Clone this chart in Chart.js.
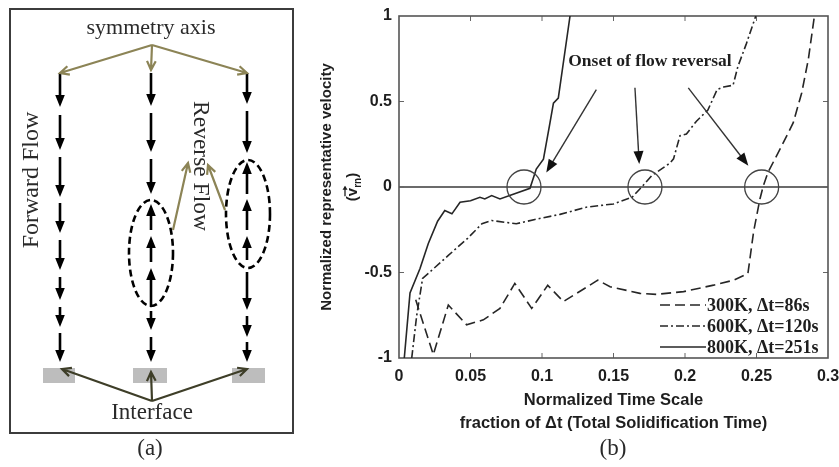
<!DOCTYPE html>
<html>
<head>
<meta charset="utf-8">
<script src="https://cdn.jsdelivr.net/npm/chart.js@4.4.1/dist/chart.umd.min.js"></script>
<style>
  html, body { margin: 0; padding: 0; background: #fff; }
  #wrap { width: 839px; height: 467px; }
</style>
</head>
<body>
<div id="wrap"><canvas id="fig" width="839" height="467"></canvas></div>
<script>
// series: normalized time (fraction of dt) vs normalized velocity
const seriesLabels = ['300K, \u0394t=86s', '600K, \u0394t=120s', '800K, \u0394t=251s'];

const t300 = [0.0117, 0.024, 0.0345, 0.0473, 0.059, 0.0706, 0.081, 0.0928, 0.104, 0.115, 0.139, 0.1476, 0.1685, 0.18, 0.199, 0.22, 0.234, 0.244, 0.248, 0.2524, 0.2548, 0.258, 0.2676, 0.2757, 0.2816, 0.2862, 0.2905];
const v300 = [-0.66, -0.98, -0.69, -0.806, -0.777, -0.71, -0.564, -0.71, -0.575, -0.67, -0.545, -0.583, -0.622, -0.628, -0.612, -0.574, -0.545, -0.506, -0.26, -0.07, 0.008, 0.085, 0.24, 0.376, 0.55, 0.744, 1];

const t600 = [0.0089, 0.0124, 0.0165, 0.0229, 0.0345, 0.048, 0.058, 0.0648, 0.082, 0.095, 0.1126, 0.131, 0.150, 0.163, 0.1697, 0.1767, 0.1895, 0.192, 0.1965, 0.201, 0.208, 0.216, 0.2225, 0.227, 0.2336, 0.237, 0.243, 0.2495];
const v600 = [-1, -0.75, -0.535, -0.487, -0.4, -0.30, -0.215, -0.196, -0.215, -0.19, -0.16, -0.118, -0.099, -0.06, 0, 0.066, 0.14, 0.165, 0.30, 0.31, 0.385, 0.45, 0.57, 0.585, 0.595, 0.705, 0.84, 1];

const t800 = [0.0037, 0.0077, 0.0147, 0.0205, 0.027, 0.032, 0.037, 0.0427, 0.05, 0.0566, 0.06, 0.0648, 0.0706, 0.0916, 0.096, 0.101, 0.1056, 0.108, 0.1114, 0.1196];
const v800 = [-1, -0.62, -0.477, -0.33, -0.2, -0.138, -0.157, -0.089, -0.08, -0.06, -0.07, -0.05, -0.07, -0.008, 0.105, 0.163, 0.376, 0.49, 0.52, 1];

const xTicks = [0, 0.05, 0.1, 0.15, 0.2, 0.25, 0.3];
const xTickLabels = ['0', '0.05', '0.1', '0.15', '0.2', '0.25', '0.3'];
const yTicks = [-1, -0.5, 0, 0.5, 1];
const yTickLabels = ['-1', '-0.5', '0', '0.5', '1'];

// onset of flow reversal (where each curve crosses zero)
const onsetT = [0.0874, 0.172, 0.2536];

const INK = '#1e1e1e';
const SANS = '"Liberation Sans", Arial, "DejaVu Sans", sans-serif';
const SERIF = '"Liberation Serif", "Times New Roman", serif';

const pts = (xs, ys) => xs.map((x, i) => ({ x: x, y: ys[i] }));

function head(c, x, y, ang, len, half) {
  c.beginPath();
  c.moveTo(x, y);
  c.lineTo(x - len * Math.cos(ang) + half * Math.sin(ang), y - len * Math.sin(ang) - half * Math.cos(ang));
  c.lineTo(x - len * Math.cos(ang) - half * Math.sin(ang), y - len * Math.sin(ang) + half * Math.cos(ang));
  c.closePath();
  c.fill();
}

function chevron(c, x0, y0, x1, y1, len) {
  const a = Math.atan2(y1 - y0, x1 - x0);
  c.beginPath();
  c.moveTo(x0, y0); c.lineTo(x1, y1);
  c.moveTo(x1 - len * Math.cos(a - 0.45), y1 - len * Math.sin(a - 0.45));
  c.lineTo(x1, y1);
  c.lineTo(x1 - len * Math.cos(a + 0.45), y1 - len * Math.sin(a + 0.45));
  c.stroke();
}

function vArrow(c, x, from, tip) {
  const dir = tip > from ? 1 : -1;
  c.beginPath();
  c.moveTo(x, from); c.lineTo(x, tip - dir * 8);
  c.stroke();
  head(c, x, tip, dir > 0 ? Math.PI / 2 : -Math.PI / 2, 12, 4.8);
}

// panel (a): schematic of flow directions
const panelA = {
  id: 'panelA',
  afterDraw(chart) {
    const c = chart.ctx;
    c.save();
    c.strokeStyle = '#3c3c3c'; c.lineWidth = 2;
    c.strokeRect(10, 9, 283, 424);

    c.fillStyle = '#bdbdbd';
    c.fillRect(43, 368, 32, 15);
    c.fillRect(133, 368, 34, 15);
    c.fillRect(232, 368, 33, 15);

    c.strokeStyle = '#000'; c.fillStyle = '#000'; c.lineWidth = 2.6;
    const left = [[73, 107], [115, 150], [157, 197], [203, 233], [240, 270], [277, 300], [307, 327], [333, 362]];
    left.forEach(s => vArrow(c, 60, s[0], s[1]));
    const mid = [[73, 106], [113, 152], [159, 194], [311, 330], [337, 362], [307, 268], [262, 236], [230, 204]];
    mid.forEach(s => vArrow(c, 151, s[0], s[1]));
    const right = [[73, 104], [111, 153], [272, 310], [316, 337], [342, 362], [260, 236], [230, 199], [194, 162]];
    right.forEach(s => vArrow(c, 247, s[0], s[1]));

    c.setLineDash([7, 4]); c.lineWidth = 2.6;
    c.beginPath(); c.ellipse(151, 253, 22, 53, 0, 0, 2 * Math.PI); c.stroke();
    c.beginPath(); c.ellipse(248, 214, 22, 54, 0, 0, 2 * Math.PI); c.stroke();
    c.setLineDash([]);

    c.strokeStyle = '#8c8456'; c.lineWidth = 2.2;
    chevron(c, 152, 45, 60, 73, 10);
    chevron(c, 152, 45, 151, 70, 10);
    chevron(c, 152, 45, 247, 73, 10);
    chevron(c, 173, 230, 188, 163, 10);
    chevron(c, 225, 210, 208, 165, 10);

    c.strokeStyle = '#3e3e28';
    chevron(c, 152, 401, 62, 369, 10);
    chevron(c, 152, 401, 151, 372, 10);
    chevron(c, 152, 401, 247, 369, 10);

    c.fillStyle = '#2a2a2a';
    c.textAlign = 'center'; c.textBaseline = 'middle';
    c.font = '22px ' + SERIF;
    c.fillText('symmetry axis', 151, 28);
    c.font = '23px ' + SERIF;
    c.fillText('Interface', 152, 413);
    c.fillText('(a)', 150, 449);
    c.fillText('(b)', 613, 449);
    c.font = '24px ' + SERIF;
    c.save(); c.translate(32, 180); c.rotate(-Math.PI / 2); c.fillText('Forward Flow', 0, 0); c.restore();
    c.font = '23.5px ' + SERIF;
    c.save(); c.translate(200, 166); c.rotate(Math.PI / 2); c.fillText('Reverse Flow', 0, 0); c.restore();
    c.restore();
  }
};

// plot box, zero line, inward ticks
const frame = {
  id: 'frame',
  beforeDatasetsDraw(chart) {
    const c = chart.ctx, a = chart.chartArea, x = chart.scales.x, y = chart.scales.y;
    c.save();
    c.strokeStyle = '#3a3a3a'; c.lineWidth = 1.3;
    const y0 = y.getPixelForValue(0);
    c.beginPath(); c.moveTo(a.left, y0); c.lineTo(a.right, y0); c.stroke();
    c.strokeStyle = '#666'; c.lineWidth = 1;
    c.beginPath();
    xTicks.slice(1, -1).forEach(v => {
      const px = x.getPixelForValue(v);
      c.moveTo(px, a.bottom); c.lineTo(px, a.bottom - 5);
      c.moveTo(px, a.top); c.lineTo(px, a.top + 5);
    });
    yTicks.slice(1, -1).forEach(v => {
      const py = y.getPixelForValue(v);
      c.moveTo(a.left, py); c.lineTo(a.left + 5, py);
      c.moveTo(a.right, py); c.lineTo(a.right - 5, py);
    });
    c.stroke();
    c.strokeStyle = '#555'; c.lineWidth = 1.6;
    c.strokeRect(a.left, a.top, a.right - a.left, a.bottom - a.top);

    // second line of the y title: (v-arrow with subscript rn)
    const cy = (a.top + a.bottom) / 2;
    c.translate(a.left - 46, cy);
    c.rotate(-Math.PI / 2);
    c.fillStyle = INK; c.strokeStyle = INK;
    c.textBaseline = 'middle'; c.textAlign = 'left';
    c.font = 'bold 15px ' + SANS;
    const wP = c.measureText('(').width, wV = c.measureText('v').width;
    c.font = 'bold 10px ' + SANS;
    const wS = c.measureText('rn').width;
    let px = -(2 * wP + wV + wS) / 2;
    c.font = 'bold 15px ' + SANS;
    c.fillText('(', px, 0); px += wP;
    c.fillText('v', px, 0);
    c.lineWidth = 1.3;
    c.beginPath(); c.moveTo(px, -8); c.lineTo(px + wV + 1, -8); c.stroke();
    head(c, px + wV + 2, -8, 0, 4, 2.5);
    px += wV;
    c.font = 'bold 10px ' + SANS;
    c.fillText('rn', px, 5); px += wS;
    c.font = 'bold 15px ' + SANS;
    c.fillText(')', px, 0);
    c.restore();
  }
};

// circles, arrows, note text and legend
const notes = {
  id: 'notes',
  afterDatasetsDraw(chart) {
    const c = chart.ctx, a = chart.chartArea, x = chart.scales.x, y = chart.scales.y;
    c.save();
    c.strokeStyle = '#444'; c.lineWidth = 1.3;
    onsetT.forEach(t => {
      c.beginPath(); c.arc(x.getPixelForValue(t), y.getPixelForValue(0), 17, 0, 2 * Math.PI); c.stroke();
    });

    const arrows = [[0.138, 0.57, 0.103, 0.085], [0.165, 0.58, 0.168, 0.134], [0.2023, 0.58, 0.2443, 0.124]];
    c.strokeStyle = '#333'; c.fillStyle = '#111'; c.lineWidth = 1.4;
    arrows.forEach(r => {
      const x0 = x.getPixelForValue(r[0]), y0 = y.getPixelForValue(r[1]);
      const x1 = x.getPixelForValue(r[2]), y1 = y.getPixelForValue(r[3]);
      const ang = Math.atan2(y1 - y0, x1 - x0);
      c.beginPath(); c.moveTo(x0, y0); c.lineTo(x1 - 8 * Math.cos(ang), y1 - 8 * Math.sin(ang)); c.stroke();
      head(c, x1, y1, ang, 13, 5);
    });

    c.fillStyle = INK;
    c.font = 'bold 17.5px ' + SERIF;
    c.textAlign = 'center'; c.textBaseline = 'middle';
    c.fillText('Onset of flow reversal', x.getPixelForValue(0.1755), y.getPixelForValue(0.733));

    // legend inside the axes, bottom right
    const rows = [53, 32, 11];
    c.font = 'bold 18px ' + SERIF;
    chart.data.datasets.forEach((ds, i) => {
      const ly = a.bottom - rows[i];
      c.strokeStyle = ds.borderColor; c.lineWidth = 1.6;
      c.setLineDash(ds.borderDash || []);
      c.beginPath(); c.moveTo(a.right - 168, ly); c.lineTo(a.right - 122, ly); c.stroke();
      c.setLineDash([]);
      c.textAlign = 'left';
      c.fillText(ds.label, a.right - 121, ly + 1);
    });
    c.restore();
  }
};

const lineStyle = { borderColor: '#262626', borderWidth: 1.6, pointRadius: 0, tension: 0, fill: false };

new Chart(document.getElementById('fig'), {
  type: 'line',
  data: {
    datasets: [
      Object.assign({ label: seriesLabels[0], data: pts(t300, v300), borderDash: [10, 5] }, lineStyle),
      Object.assign({ label: seriesLabels[1], data: pts(t600, v600), borderDash: [8, 3, 2, 3] }, lineStyle),
      Object.assign({ label: seriesLabels[2], data: pts(t800, v800), borderDash: [] }, lineStyle),
    ],
  },
  options: {
    responsive: false,
    animation: false,
    devicePixelRatio: 1,
    layout: { padding: { left: 312, top: 16, right: 11, bottom: 0 } },
    plugins: {
      legend: { display: false },
      tooltip: { enabled: false },
    },
    scales: {
      x: {
        type: 'linear',
        min: 0,
        max: 0.3,
        grid: { display: false, drawTicks: false },
        border: { display: false },
        afterBuildTicks: s => { s.ticks = xTicks.map(v => ({ value: v })); },
        afterFit: s => { s.height = 109; s.paddingLeft = 0; s.paddingRight = 0; },
        ticks: {
          autoSkip: false,
          maxRotation: 0,
          padding: 9,
          color: INK,
          font: { family: SANS, size: 16, weight: 'bold' },
          callback: (v, i) => xTickLabels[i],
        },
        title: {
          display: true,
          text: ['Normalized Time Scale', 'fraction of \u0394t (Total Solidification Time)'],
          color: INK,
          font: { family: SANS, size: 16.5, weight: 'bold', lineHeight: 23 / 16.5 },
          padding: { top: 0, bottom: 32.5 },
        },
      },
      y: {
        min: -1,
        max: 1,
        grid: { display: false, drawTicks: false },
        border: { display: false },
        afterBuildTicks: s => { s.ticks = yTicks.map(v => ({ value: v })); },
        afterFit: s => { s.width = 87; s.paddingTop = 0; s.paddingBottom = 0; },
        ticks: {
          autoSkip: false,
          padding: 7,
          color: INK,
          font: { family: SANS, size: 16, weight: 'bold' },
          callback: (v, i) => yTickLabels[i],
        },
        title: {
          display: true,
          text: 'Normalized representative velocity',
          color: INK,
          font: { family: SANS, size: 15, weight: 'bold', lineHeight: 1.2 },
          padding: { top: 6, bottom: 0 },
        },
      },
    },
  },
  plugins: [frame, notes, panelA],
});
</script>
</body>
</html>
